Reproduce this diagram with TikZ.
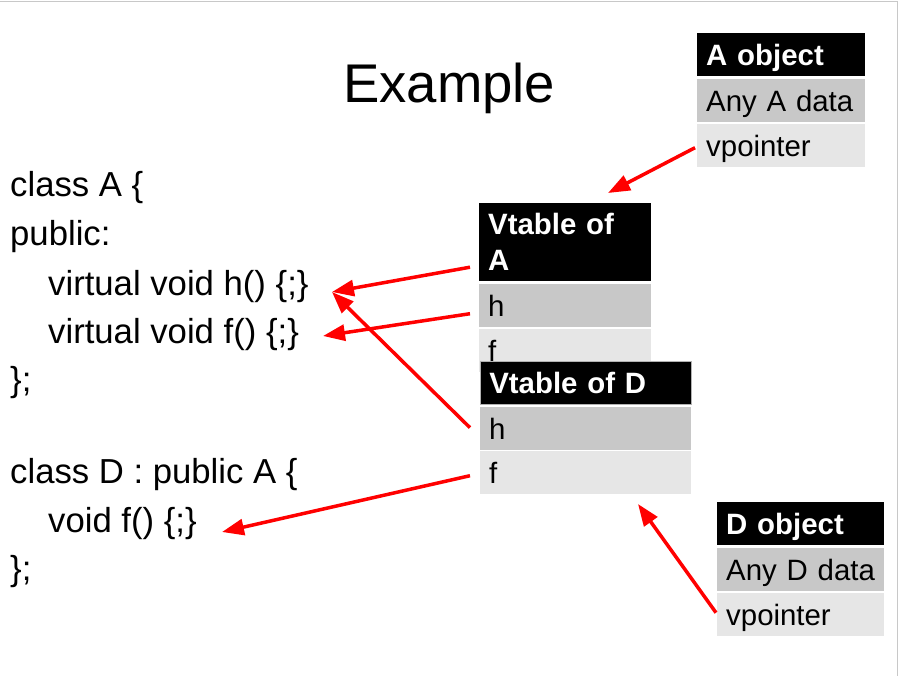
\documentclass[tikz,border=0pt]{standalone}
\usepackage{fontspec}
\setmainfont{Liberation Sans}
\usetikzlibrary{arrows.meta}
\definecolor{cellmid}{RGB}{200,200,200}
\definecolor{celllight}{RGB}{230,230,230}
\definecolor{framegray}{RGB}{200,200,200}
\definecolor{ptrred}{RGB}{255,0,0}
\newcommand\codesize{\fontsize{34.7}{40}\selectfont}
\newcommand\cellsize{\fontsize{29.4}{36}\selectfont}
\newcommand\bigtitlesize{\fontsize{54.5}{60}\selectfont}

\begin{document}
\begin{tikzpicture}[x=1pt,y=-1pt,
  code/.style={anchor=base west, inner sep=0pt, font=\codesize},
  cell/.style={anchor=north west, rectangle, inner xsep=9pt, inner ysep=0pt,
    minimum height=43pt, text height=27pt, text depth=6pt, align=left,
    font=\cellsize},
  headcell/.style={cell, fill=black, text=white, font=\cellsize\bfseries},
  midcell/.style={cell, fill=cellmid},
  lightcell/.style={cell, fill=celllight},
  ptr/.style={draw=ptrred, line width=3.5pt,
    -{Triangle[length=22pt,width=16pt]}}]

\useasboundingbox (0,0) rectangle (899,676);
\fill[white] (0,0) rectangle (899,676);
\draw[framegray, line width=1pt] (0,2) -- (897,2) -- (897,676);

% title
\node[anchor=base west, inner sep=0pt, font=\bigtitlesize] (title) at (343,103) {Example};

% source code
\node[code] (c1) at (10,197) {class A \{};
\node[code] (c2) at (10,246) {public:};
\node[code] (c3) at (48,295) {virtual void h() \{;\}};
\node[code] (c4) at (48,343) {virtual void f() \{;\}};
\node[code] (c5) at (10,391) {\};};
\node[code] (c6) at (10,483) {class D : public A \{};
\node[code] (c7) at (48,532) {void f() \{;\}};
\node[code] (c8) at (10,580) {\};};

% A object
\node[headcell, text width=150pt] (aobj) at (697,33) {\mbox{A object}};
\node[midcell, text width=150pt] (adata) at (697,79) {\mbox{Any A data}};
\node[lightcell, text width=150pt] (avp) at (697,124) {vpointer};

% vtable of A
\node[headcell, text width=154pt, minimum height=78pt, text depth=42pt] (vta) at (479,203) {Vtable of\\A};
\node[midcell, text width=154pt] (vtah) at (479,284) {h};
\node[lightcell, text width=154pt] (vtaf) at (479,329) {f};

% vtable of D
\node[headcell, text width=193pt, draw=gray!60, line width=0.6pt] (vtd) at (480,361) {\mbox{Vtable of D}};
\node[midcell, text width=193pt] (vtdh) at (480,407) {h};
\node[lightcell, text width=193pt] (vtdf) at (480,451) {f};

% D object
\node[headcell, text width=149pt] (dobj) at (717,502) {\mbox{D object}};
\node[midcell, text width=149pt] (ddata) at (717,548) {\mbox{Any D data}};
\node[lightcell, text width=149pt] (dvp) at (717,593) {vpointer};

% pointer targets
\coordinate (tipA) at (608,193);
\coordinate (tipH) at (332,292);
\coordinate (tipF) at (323,336);
\coordinate (tipDF) at (222,532);
\coordinate (tipD) at (638,504);

% pointers
\draw[ptr] ([shift={(-2,2)}]avp.west) -- (tipA);
\draw[ptr] ([shift={(-9,25)}]vta.west) -- (tipH);
\draw[ptr] ([shift={(-9,8)}]vtah.west) -- (tipF);
\draw[ptr] ([shift={(-10,-1)}]vtdh.west) -- (tipH);
\draw[ptr] ([shift={(-10,3)}]vtdf.west) -- (tipDF);
\draw[ptr] ([shift={(-1,-2)}]dvp.west) -- (tipD);
\end{tikzpicture}
\end{document}
